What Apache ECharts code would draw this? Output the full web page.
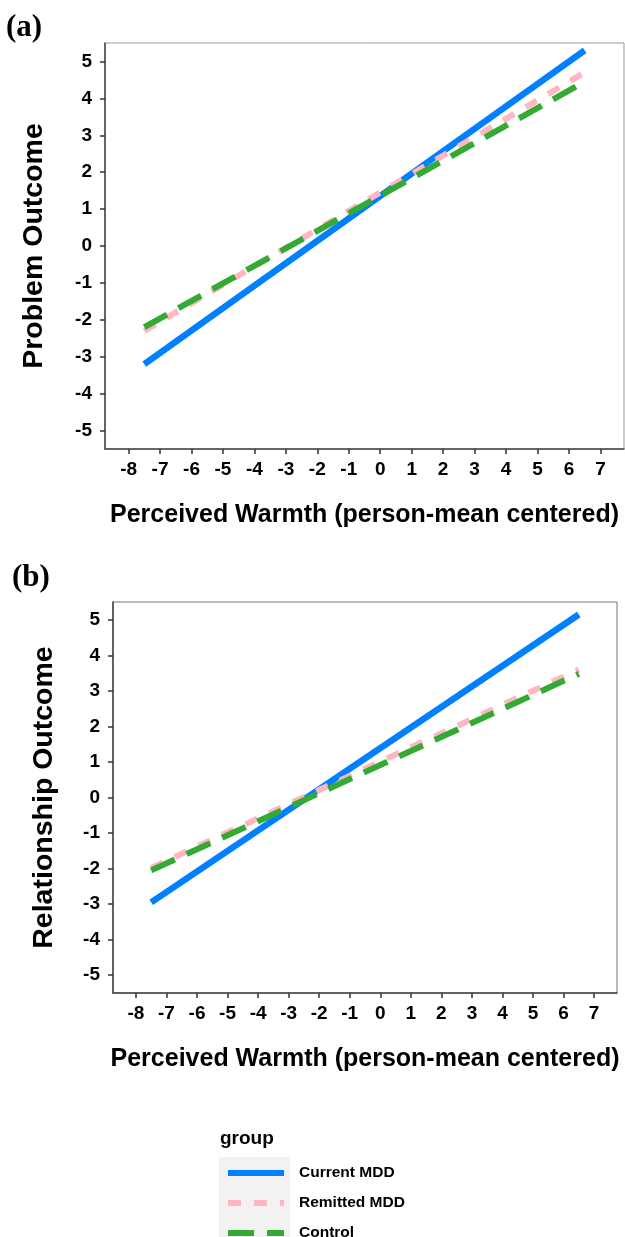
<!DOCTYPE html>
<html>
<head>
<meta charset="utf-8">
<script src="https://cdn.jsdelivr.net/npm/echarts@6/dist/echarts.min.js"></script>
<style>
  html, body { margin: 0; padding: 0; background: #fff; }
  #chart { width: 625px; height: 1237px; }
</style>
</head>
<body>
<div id="chart"></div>
<script>
// x range of the fitted lines
var xVals = [-7.5, 6.5];
var groups = ['Current MDD', 'Remitted MDD', 'Control'];

// (a) problem outcome
var problemCurrent = [-3.2, 5.3];
var problemRemitted = [-2.3, 4.7];
var problemControl = [-2.2, 4.45];

// (b) relationship outcome
var relCurrent = [-2.95, 5.15];
var relRemitted = [-1.98, 3.6];
var relControl = [-2.05, 3.48];

var xTicks = [-8, -7, -6, -5, -4, -3, -2, -1, 0, 1, 2, 3, 4, 5, 6, 7];
var yTicks = [-5, -4, -3, -2, -1, 0, 1, 2, 3, 4, 5];

var colors = ['#0080ff', '#ffb6c1', '#33aa33'];
var dashes = ['solid', [13, 13], [26, 13]];
var widths = [6.5, 6, 6];

function pairs(ys) {
  var res = [];
  for (var i = 0; i < xVals.length; i++) {
    res.push([xVals[i], ys[i]]);
  }
  return res;
}

var font = 'Liberation Sans, Arial, sans-serif';

function makeX(idx) {
  return {
    type: 'value',
    gridIndex: idx,
    min: -8.75,
    max: 7.75,
    splitLine: { show: false },
    axisLine: { show: true, onZero: false, lineStyle: { color: '#444', width: 1.5 } },
    axisTick: { show: true, length: 5, customValues: xTicks, lineStyle: { color: '#333', width: 1.5 } },
    axisLabel: { customValues: xTicks, margin: 11, color: '#000', fontSize: 19, fontWeight: 'bold', fontFamily: font },
    name: 'Perceived Warmth (person-mean centered)',
    nameLocation: 'middle',
    nameGap: 54,
    nameTextStyle: { color: '#000', fontSize: 25, fontWeight: 'bold', fontFamily: font }
  };
}

function makeY(idx, title, gap) {
  return {
    type: 'value',
    gridIndex: idx,
    min: -5.5,
    max: 5.5,
    splitLine: { show: false },
    axisLine: { show: true, onZero: false, lineStyle: { color: '#444', width: 1.5 } },
    axisTick: { show: true, length: 5, customValues: yTicks, lineStyle: { color: '#333', width: 1.5 } },
    axisLabel: { customValues: yTicks, margin: 13, color: '#000', fontSize: 19, fontWeight: 'bold', fontFamily: font },
    name: title,
    nameLocation: 'middle',
    nameRotate: 90,
    nameGap: gap,
    nameTextStyle: { color: '#000', fontSize: 28.5, fontWeight: 'bold', fontFamily: font }
  };
}

function makeSeries(idx, vals) {
  var out = [];
  for (var i = 0; i < groups.length; i++) {
    out.push({
      name: groups[i],
      type: 'line',
      xAxisIndex: idx,
      yAxisIndex: idx,
      symbol: 'none',
      silent: true,
      lineStyle: { color: colors[i], width: widths[i], type: dashes[i], cap: 'butt' },
      itemStyle: { color: colors[i] },
      data: pairs(vals[i])
    });
  }
  return out;
}

var myChart = echarts.init(document.getElementById('chart'));
var option = {
  animation: false,
  backgroundColor: '#fff',
  grid: [
    { left: 105, top: 43, width: 519, height: 406, show: true, borderColor: '#999', borderWidth: 1 },
    { left: 113, top: 602, width: 504, height: 391, show: true, borderColor: '#777', borderWidth: 1 }
  ],
  xAxis: [makeX(0), makeX(1)],
  yAxis: [makeY(0, 'Problem Outcome', 56), makeY(1, 'Relationship Outcome', 54)],
  legend: {
    orient: 'vertical',
    left: 225,
    top: 1165,
    padding: 0,
    height: 80,
    itemWidth: 56,
    itemHeight: 14,
    itemGap: 14,
    data: groups,
    itemStyle: { opacity: 0 },
    lineStyle: { width: 6 },
    textStyle: { color: '#000', fontSize: 15.5, fontWeight: 'bold', fontFamily: font, padding: [0, 0, 0, 10] }
  },
  graphic: [
    { type: 'text', left: 6, top: 12, style: { text: '(a)', font: 'bold 31px "Liberation Serif", "Times New Roman", serif', fill: '#000' } },
    { type: 'text', left: 12, top: 562, style: { text: '(b)', font: 'bold 31px "Liberation Serif", "Times New Roman", serif', fill: '#000' } },
    { type: 'text', left: 220, top: 1129, style: { text: 'group', font: 'bold 19px "Liberation Sans", Arial, sans-serif', fill: '#000' } },
    { type: 'rect', left: 219, top: 1157, z: -1, shape: { width: 71, height: 80 }, style: { fill: '#f2f2f2' } }
  ],
  series: makeSeries(0, [problemCurrent, problemRemitted, problemControl])
    .concat(makeSeries(1, [relCurrent, relRemitted, relControl]))
};
myChart.setOption(option);

window.onresize = function() {
  myChart.resize();
};
</script>
</body>
</html>
